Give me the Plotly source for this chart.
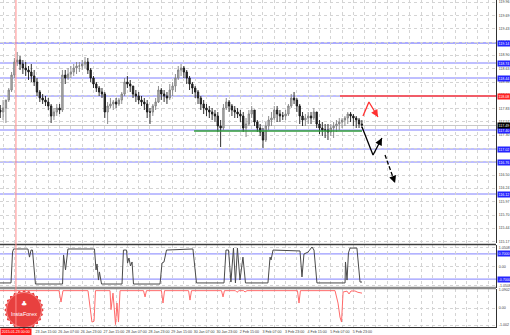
import plotly.graph_objects as go

# ---------------- data ----------------
# 2-hour bars, x = trading hours relative to 23 Jan 15:00
bar_hours = list(range(-26, 231, 2))
high = [117.90, 118.00, 117.96, 118.24, 118.56, 118.84, 118.96, 118.88, 118.80, 118.76,
        118.68, 118.72, 118.60, 118.44, 118.20, 118.12, 118.08, 118.04, 117.92, 117.84,
        117.92, 117.92, 118.60, 118.60, 118.64, 118.68, 118.72, 118.76, 118.76, 118.80,
        118.86, 118.84, 118.64, 118.48, 118.36, 118.28, 118.24, 118.16, 117.96, 118.04,
        118.00, 118.04, 118.04, 118.16, 118.44, 118.48, 118.40, 118.28, 118.20, 118.16,
        118.08, 118.04, 118.00, 117.84, 117.92, 118.04, 118.28, 118.24, 118.20, 118.16,
        118.32, 118.36, 118.52, 118.68, 118.72, 118.68, 118.60, 118.48, 118.36, 118.28,
        118.20, 118.08, 118.00, 117.92, 117.88, 117.84, 117.80, 117.76, 117.60, 117.92,
        118.04, 118.00, 117.92, 117.88, 117.84, 117.80, 117.76, 117.64, 117.80, 117.88,
        117.80, 117.60, 117.52, 117.44, 117.56, 117.68, 117.76, 117.88, 117.88, 117.80,
        117.76, 117.80, 117.92, 118.12, 118.16, 118.04, 117.92, 117.76, 117.72, 117.76,
        117.76, 117.84, 117.76, 117.60, 117.56, 117.52, 117.52, 117.52, 117.56, 117.60,
        117.64, 117.64, 117.68, 117.76, 117.76, 117.72, 117.68, 117.64, 117.60]
low = [117.64, 117.60, 117.54, 117.96, 118.16, 118.44, 118.68, 118.60, 118.52, 118.48,
       118.40, 118.36, 118.28, 118.08, 117.96, 117.92, 117.88, 117.80, 117.54, 117.60,
       117.68, 117.72, 117.76, 118.32, 118.40, 118.44, 118.48, 118.52, 118.56, 118.60,
       118.64, 118.52, 118.36, 118.24, 118.16, 118.08, 118.04, 117.64, 117.52, 117.84,
       117.80, 117.84, 117.88, 117.92, 118.08, 118.24, 118.16, 118.04, 117.96, 117.92,
       117.88, 117.80, 117.64, 117.52, 117.68, 117.80, 117.94, 118.00, 117.96, 117.92,
       118.00, 118.08, 118.16, 118.40, 118.48, 118.44, 118.32, 118.20, 118.12, 118.04,
       117.92, 117.80, 117.72, 117.68, 117.64, 117.60, 117.56, 117.36, 117.06, 117.40,
       117.80, 117.76, 117.68, 117.64, 117.64, 117.56, 117.36, 117.26, 117.48, 117.64,
       117.48, 117.36, 117.28, 117.04, 117.16, 117.40, 117.48, 117.60, 117.56, 117.56,
       117.60, 117.60, 117.68, 117.84, 117.92, 117.76, 117.52, 117.48, 117.48, 117.52,
       117.52, 117.60, 117.44, 117.32, 117.28, 117.24, 117.20, 117.28, 117.24, 117.36,
       117.40, 117.44, 117.48, 117.52, 117.56, 117.48, 117.44, 117.44, 117.44]
close = [117.76, 117.84, 118.00, 118.20, 118.50, 118.76, 118.80, 118.72, 118.64, 118.60,
         118.56, 118.48, 118.36, 118.16, 118.04, 118.00, 117.96, 117.88, 117.68, 117.76,
         117.84, 117.80, 118.50, 118.44, 118.52, 118.56, 118.64, 118.68, 118.68, 118.72,
         118.76, 118.60, 118.44, 118.32, 118.24, 118.16, 118.12, 117.76, 117.88, 117.92,
         117.96, 117.92, 118.00, 118.12, 118.36, 118.32, 118.28, 118.12, 118.08, 118.00,
         117.96, 117.92, 117.76, 117.76, 117.88, 117.96, 118.20, 118.12, 118.08, 118.04,
         118.20, 118.28, 118.44, 118.60, 118.64, 118.56, 118.44, 118.32, 118.24, 118.16,
         118.04, 117.92, 117.84, 117.80, 117.76, 117.72, 117.68, 117.48, 117.44, 117.84,
         117.96, 117.88, 117.80, 117.76, 117.72, 117.68, 117.44, 117.52, 117.72, 117.80,
         117.56, 117.44, 117.36, 117.20, 117.48, 117.60, 117.64, 117.80, 117.72, 117.68,
         117.68, 117.72, 117.88, 118.04, 118.00, 117.88, 117.68, 117.60, 117.64, 117.68,
         117.64, 117.76, 117.52, 117.44, 117.40, 117.40, 117.36, 117.44, 117.48, 117.52,
         117.56, 117.60, 117.64, 117.72, 117.68, 117.64, 117.60, 117.52, 117.50]
first_open = 117.80
open_ = [first_open] + close[:-1]
assert len(high) == len(low) == len(close) == len(bar_hours)

time_ticks = [0, 16, 32, 48, 64, 80, 96, 112, 128, 144, 160, 176, 192, 208, 224]
time_labels = ["23 Jan 15:00", "26 Jan 07:00", "26 Jan 23:00", "27 Jan 15:00", "28 Jan 07:00",
               "28 Jan 23:00", "29 Jan 15:00", "30 Jan 07:00", "30 Jan 23:00", "2 Feb 15:00",
               "3 Feb 07:00", "3 Feb 23:00", "4 Feb 15:00", "5 Feb 07:00", "5 Feb 23:00"]
grid_times = [-24, -16, -8, 0, 8, 16, 24, 32, 40, 48, 56, 64, 72, 80, 88, 96, 104, 112, 120,
              128, 136, 144, 152, 160, 168, 176, 184, 192, 200, 208, 216, 224, 232, 240,
              248, 256, 264, 272, 280, 288, 296, 304, 312, 320]
price_ticks = [119.96, 119.69, 119.43, 119.16, 118.90, 118.63, 118.36, 118.10, 117.83, 117.57,
               117.30, 117.03, 116.77, 116.50, 116.24, 115.97, 115.70, 115.44, 115.17]

level_prices = [119.14, 118.74, 118.44, 118.08, 117.40, 117.02, 116.76, 116.12]
resistance_price = 118.08
resistance_start = 214.5
bid_price = 117.49
support_price = 117.38
support_start, support_end = 111.2, 230.1
marker_time = -14.9
marker_label = "2015.01.23 00:00"

osc_x = [-26.2, -18.4, -17.3, -16.6, -6.4, -5.3, -4.2, -3.2, -2.1, -1.1, 18.1, 18.8, 20.2,
         21.9, 40.7, 41.8, 42.5, 43.5, 44.2, 45.7, 60.2, 61.2, 63.4, 64.1, 65.1, 66.2, 67.3,
         68.3, 87.1, 88.5, 89.9, 91.7, 110.4, 112.9, 132.4, 133.8, 135.6, 137.3, 139.1,
         140.5, 141.9, 143.7, 145.8, 147.6, 163.5, 165.0, 165.7, 167.1, 186.2, 187.6, 189.0,
         191.9, 194.7, 196.1, 198.2, 218.1, 218.4, 219.5, 220.5, 221.6, 226.5, 228.7, 230.1]
osc_y = [-0.91, -0.91, 0.80, 0.97, 0.97, 0.52, 0.91, 0.91, -0.08, -0.97, -0.97, 0.64, -0.19,
         0.97, 0.97, -0.19, 0.14, -0.75, -0.30, -0.97, -0.97, 0.91, 0.91, 0.19, 0.47, 0.03,
         0.25, -0.97, -0.97, 0.19, 0.25, 0.91, 0.97, -0.91, -0.91, 0.91, 0.91, -0.86, 1.02,
         -0.91, 1.02, -0.75, 0.52, -0.91, -0.91, 0.52, 0.36, 0.91, 0.86, -0.58, 0.69, 0.80,
         1.08, 0.91, -0.91, -0.91, 0.25, -0.75, 0.75, 1.02, 1.02, -0.86, -0.86]
osc_levels = [0.70, -0.70]
osc_ticks = [1.05, 0.0, -1.05]
osc_labels = ["1.0508", "0.00", "-1.0508"]

red_x = [-26.2, 15.6, 17.0, 18.4, 36.1, 38.9, 40.4, 41.4, 51.7, 52.4, 53.8, 55.6, 56.6, 57.7,
         58.8, 75.4, 76.5, 77.5, 88.1, 89.2, 90.3, 107.3, 108.3, 109.4, 130.6, 131.7, 132.7,
         140.5, 141.6, 143.0, 146.2, 147.3, 148.7, 184.4, 185.5, 186.5, 211.0, 213.1, 214.5,
         215.6, 216.7, 219.5, 220.9, 222.3, 225.1, 227.2, 230.1]
red_y = [1.05, 1.05, 0.36, 1.05, 1.05, -0.85, -0.80, 1.05, 1.05, -0.10, 0.90, -1.00, 0.30,
         -0.85, 1.05, 1.05, 0.67, 1.05, 1.05, 0.30, 1.05, 1.05, 0.48, 1.05, 1.05, 0.67, 1.05,
         1.05, 0.95, 1.05, 1.05, 0.97, 1.05, 1.05, 0.30, 1.05, 1.05, 0.30, -0.55, -0.85,
         0.97, 1.02, 0.85, 1.03, 1.03, 0.95, 0.90]
red_ticks = [1.09, 0.0, -1.03]
red_labels = ["1.0902", "0.00", "-1.002"]

# forecast arrows (time, price)
red_arrow_t = [230.8, 235.0, 241.4]
red_arrow_p = [117.68, 117.96, 117.66]
black_arrow_t = [230.1, 237.9, 244.2]
black_arrow_p = [117.46, 116.90, 117.24]
dash_arrow_t = [246.4, 253.5]
dash_arrow_p = [116.90, 116.34]

# ---------------- figure ----------------
FONT = "Liberation Sans"
GRID = "#d4d4d4"
BLUE = "#7f7fff"
PLOT_H = 327.0

fig = go.Figure()

fig.add_trace(go.Candlestick(
    x=bar_hours, open=open_, high=high, low=low, close=close,
    increasing=dict(line=dict(color="#808080", width=0.9), fillcolor="#b8b8b8"),
    decreasing=dict(line=dict(color="#1a1a1a", width=0.9), fillcolor="#2a2a2a"),
    whiskerwidth=0, xaxis="x", yaxis="y", hoverinfo="skip", showlegend=False))

# support (green) segment
fig.add_trace(go.Scatter(x=[support_start, support_end], y=[support_price, support_price],
                         mode="lines", line=dict(color="#2f9a3a", width=1.5),
                         xaxis="x", yaxis="y", hoverinfo="skip", showlegend=False))

# arrows polylines
fig.add_trace(go.Scatter(x=red_arrow_t, y=red_arrow_p, mode="lines",
                         line=dict(color="#ff3030", width=1.3),
                         xaxis="x", yaxis="y", hoverinfo="skip", showlegend=False))
fig.add_trace(go.Scatter(x=black_arrow_t, y=black_arrow_p, mode="lines",
                         line=dict(color="#000000", width=1.3),
                         xaxis="x", yaxis="y", hoverinfo="skip", showlegend=False))
fig.add_trace(go.Scatter(x=dash_arrow_t, y=dash_arrow_p, mode="lines",
                         line=dict(color="#000000", width=1.3, dash="4px,2px"),
                         xaxis="x", yaxis="y", hoverinfo="skip", showlegend=False))

# oscillator panel
fig.add_trace(go.Scatter(x=osc_x, y=osc_y, mode="lines", line=dict(color="#4a4a4a", width=1),
                         xaxis="x2", yaxis="y2", hoverinfo="skip", showlegend=False))
# red indicator panel
fig.add_trace(go.Scatter(x=red_x, y=red_y, mode="lines", line=dict(color="#ff6a6a", width=1),
                         xaxis="x3", yaxis="y3", hoverinfo="skip", showlegend=False))

# InstaForex badge
logo_t, logo_v = -9.2, -0.12
fig.add_trace(go.Scatter(x=[logo_t] * 6, y=[logo_v] * 6, mode="markers",
                         marker=dict(symbol="square", size=28, color="#e8403f",
                                     angle=[0, 15, 30, 45, 60, 75], line=dict(width=0)),
                         xaxis="x3", yaxis="y3", hoverinfo="skip", showlegend=False,
                         cliponaxis=False))
fig.add_trace(go.Scatter(x=[logo_t], y=[logo_v], mode="markers",
                         marker=dict(symbol="circle", size=35, color="#e8403f",
                                     line=dict(width=0.8, color="#f79a9a")),
                         xaxis="x3", yaxis="y3", hoverinfo="skip", showlegend=False,
                         cliponaxis=False))

shapes = []
for p in level_prices:
    top = p == max(level_prices)
    shapes.append(dict(type="line", xref="paper", x0=0, x1=1, yref="y", y0=p, y1=p,
                       line=dict(color="#aaaaff" if top else BLUE, width=2 if top else 1),
                       layer="below"))
shapes.append(dict(type="line", xref="paper", x0=0, x1=1, yref="y", y0=bid_price, y1=bid_price,
                   line=dict(color="#c8c8c8", width=1), layer="below"))
shapes.append(dict(type="line", xref="x", x0=resistance_start, x1=324.96, yref="y",
                   y0=resistance_price, y1=resistance_price,
                   line=dict(color="#ff3a3a", width=1.5)))
for v in osc_levels:
    shapes.append(dict(type="line", xref="paper", x0=0, x1=1, yref="y2", y0=v, y1=v,
                       line=dict(color="#9a9aff", width=1.2), layer="below"))
shapes.append(dict(type="line", xref="paper", x0=0, x1=1, yref="paper",
                   y0=(PLOT_H - 244.5) / PLOT_H, y1=(PLOT_H - 244.5) / PLOT_H,
                   line=dict(color="#3c3c3c", width=1.5)))
shapes.append(dict(type="line", xref="paper", x0=0, x1=1, yref="paper",
                   y0=(PLOT_H - 288) / PLOT_H, y1=(PLOT_H - 288) / PLOT_H,
                   line=dict(color="#8c8c8c", width=2.5)))
shapes.append(dict(type="line", xref="x", x0=marker_time, x1=marker_time, yref="paper",
                   y0=0, y1=1, line=dict(color="#ff8a8a", width=1)))

annotations = []
box_font = dict(family=FONT, size=3.6, color="white")
for p in level_prices:
    annotations.append(dict(xref="paper", x=1, xanchor="left", xshift=0.5, yref="y", y=p,
                            text=f"{p:.2f}", showarrow=False, font=box_font,
                            bgcolor="#ff2020" if p == resistance_price else "#2424ff",
                            borderpad=0.6))
annotations.append(dict(xref="paper", x=1, xanchor="left", xshift=0.5, yref="y", y=bid_price,
                        text=f"{bid_price:.2f}", showarrow=False, font=box_font,
                        bgcolor="#000000", borderpad=0.6))
for v in osc_levels:
    annotations.append(dict(xref="paper", x=1, xanchor="left", xshift=0.5, yref="y2", y=v,
                            text=f"{v:.4f}", showarrow=False, font=box_font,
                            bgcolor="#2424ff", borderpad=0.6))
for t, p, col in [(red_arrow_t, red_arrow_p, "#ff3030"), (black_arrow_t, black_arrow_p, "#000000"),
                  (dash_arrow_t, dash_arrow_p, "#000000")]:
    annotations.append(dict(x=t[-1], y=p[-1], xref="x", yref="y",
                            ax=t[-1] - (t[-1] - t[-2]) * 0.25, ay=p[-1] - (p[-1] - p[-2]) * 0.25,
                            axref="x", ayref="y", text="", showarrow=True, arrowhead=2,
                            arrowsize=1.1, arrowwidth=1.3, arrowcolor=col, standoff=0))
annotations.append(dict(x=logo_t, y=logo_v, xref="x3", yref="y3", yshift=-4, text="InstaForex",
                        showarrow=False, font=dict(family=FONT, size=5.5, color="white")))
annotations.append(dict(x=logo_t, y=logo_v, xref="x3", yref="y3", yshift=6, text="♣",
                        showarrow=False, font=dict(family="DejaVu Sans", size=7, color="white")))
annotations.append(dict(xref="paper", x=0, xanchor="left", yref="paper", y=0, yanchor="top",
                        yshift=-1, text=marker_label, showarrow=False,
                        font=dict(family=FONT, size=3.6, color="white"),
                        bgcolor="#ff1a1a", borderpad=0.8))

tick_text = [time_labels[time_ticks.index(t)] if t in time_ticks else "" for t in grid_times]

axis_common = dict(showgrid=True, gridcolor=GRID, griddash="dot", gridwidth=1, zeroline=False,
                   ticks="", automargin=False,
                   tickfont=dict(family=FONT, size=3.6, color="#404040"))

fig.update_layout(
    width=510, height=335, autosize=False,
    margin=dict(l=0, r=14, t=0, b=8, pad=0),
    paper_bgcolor="white", plot_bgcolor="white",
    showlegend=False, hovermode=False,
    font=dict(family=FONT),
    xaxis=dict(domain=[0, 1], range=[-26.19, 324.96], anchor="y", tickmode="array",
               tickvals=grid_times, ticktext=[""] * len(grid_times), showticklabels=False,
               rangeslider=dict(visible=False), **axis_common),
    xaxis2=dict(domain=[0, 1], matches="x", anchor="y2", tickmode="array", tickvals=grid_times,
                showticklabels=False, **axis_common),
    xaxis3=dict(domain=[0, 1], matches="x", anchor="y3", tickmode="array", tickvals=grid_times,
                ticktext=tick_text, showticklabels=True, showline=True, linecolor="#303030",
                linewidth=1, tickangle=0, ticklabelshift=9, ticklabelstandoff=1, **axis_common),
    yaxis=dict(domain=[(PLOT_H - 243) / PLOT_H, 1], range=[115.14, 120.0], anchor="x",
               side="right", tickmode="array", tickvals=price_ticks,
               ticktext=[f"{v:.2f}" for v in price_ticks], showline=True, linecolor="#303030",
               linewidth=1, ticklabelstandoff=1, **axis_common),
    yaxis2=dict(domain=[(PLOT_H - 288) / PLOT_H, (PLOT_H - 245) / PLOT_H], range=[-1.19, 1.19],
                anchor="x2", side="right", tickmode="array", tickvals=osc_ticks,
                ticktext=osc_labels, showline=True, linecolor="#303030", linewidth=1,
                ticklabelstandoff=1, **axis_common),
    yaxis3=dict(domain=[0, (PLOT_H - 289) / PLOT_H], range=[-1.15, 1.15], anchor="x3",
                side="right", tickmode="array", tickvals=red_ticks, ticktext=red_labels,
                showline=True, linecolor="#303030", linewidth=1, ticklabelstandoff=1,
                **axis_common),
    shapes=shapes,
    annotations=annotations,
)

fig.write_html("out.html", config={"displayModeBar": False, "staticPlot": True})
